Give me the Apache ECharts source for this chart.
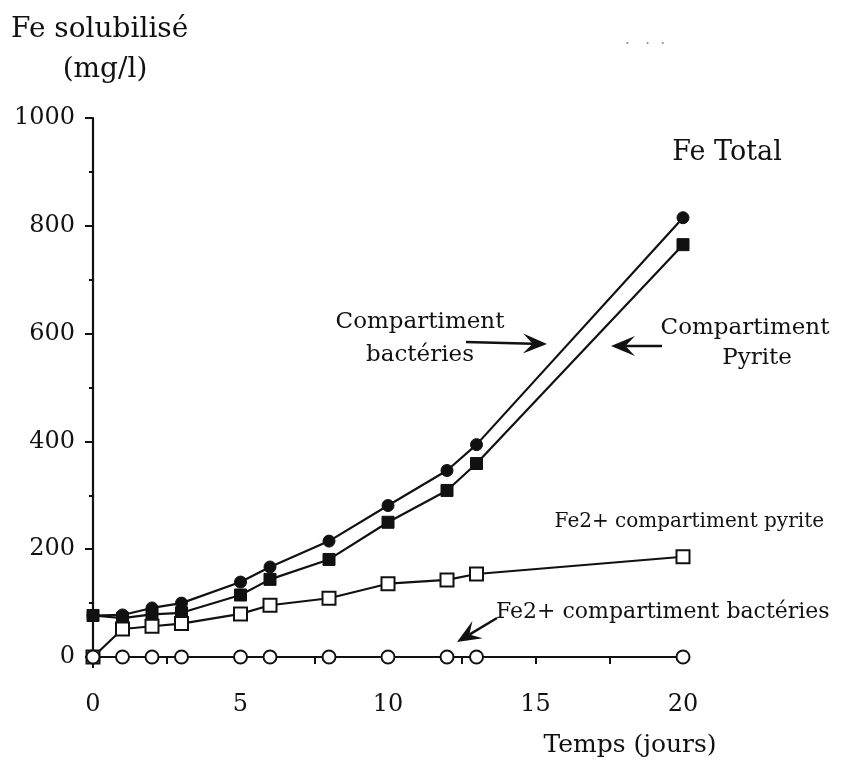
<!DOCTYPE html>
<html><head><meta charset="utf-8">
<script src="https://cdn.jsdelivr.net/npm/echarts@6/dist/echarts.min.js"></script>
<style>html,body{margin:0;padding:0;background:#fff}#c{width:843px;height:780px}</style>
</head><body><div id="c"></div>
<script>
var days = [0, 1, 2, 3, 5, 6, 8, 10, 12, 13, 20];
var feTotalBacteries = [77, 78, 91, 100, 139, 167, 215, 281, 346, 394, 815];
var feTotalPyrite = [77, 72, 79, 82, 115, 144, 181, 250, 309, 359, 765];
var fe2Pyrite = [0, 52, 57, 62, 80, 96, 109, 136, 143, 154, 186];
var fe2Bacteries = [0, 0, 0, 0, 0, 0, 0, 0, 0, 0, 0];
var xTicks = [0, 5, 10, 15, 20];
var yTicks = [0, 200, 400, 600, 800, 1000];

function pairs(v) { return days.map(function (d, i) { return [d, v[i]]; }); }
var F = 'DejaVu Serif';
var chart = echarts.init(document.getElementById('c'), null, {renderer: 'canvas'});
function mk(name, data, symbol, filled, z) {
  return {
    name: name, type: 'line', data: pairs(data), symbol: symbol, symbolSize: filled ? 12 : 13,
    lineStyle: {color: '#111', width: 2.2}, z: z,
    itemStyle: {color: filled ? '#111' : '#fff', borderColor: '#111', borderWidth: filled ? 1 : 2},
    emphasis: {disabled: true}, animation: false
  };
}
function arrow(x1, y1, x2, y2) {
  var ang = Math.atan2(y2 - y1, x2 - x1);
  var L = 24, W = 10;
  var bx = x2 - L * Math.cos(ang), by = y2 - L * Math.sin(ang);
  var nx = -Math.sin(ang), ny = Math.cos(ang);
  var mx = x2 - 0.6 * L * Math.cos(ang), my = y2 - 0.6 * L * Math.sin(ang);
  return [
    {type: 'line', shape: {x1: x1, y1: y1, x2: mx, y2: my}, style: {stroke: '#111', lineWidth: 2.5}},
    {type: 'polygon', shape: {points: [[x2, y2], [bx + nx * W, by + ny * W], [mx, my], [bx - nx * W, by - ny * W]]}, style: {fill: '#111'}}
  ];
}
function txt(t, x, y, size, align) {
  return {type: 'text', x: x, y: y, style: {text: t, font: size + 'px "' + F + '"', fill: '#111', textAlign: align || 'center', textVerticalAlign: 'middle'}};
}
var g = [
  txt('Fe solubilisé', 11, 30, 28, 'left'),
  txt('(mg/l)', 105, 70, 28),
  txt('Temps (jours)', 630, 745, 25),
  txt('Fe Total', 727, 153, 27),
  txt('Compartiment', 420, 322, 23),
  txt('bactéries', 420, 355, 23),
  txt('Compartiment', 745, 328, 23),
  txt('Pyrite', 757, 358, 23),
  txt('Fe2+ compartiment pyrite', 824, 522, 20, 'right'),
  txt('Fe2+ compartiment bactéries', 496, 612, 22, 'left'),
  {type: 'line', shape: {x1: 93, y1: 657, x2: 93, y2: 668}, style: {stroke: '#111', lineWidth: 2}},
  {type: 'text', x: 645, y: 45, style: {text: '·   ·  ·', font: '16px "' + F + '"', fill: '#999', textAlign: 'center', textVerticalAlign: 'middle'}}
].concat(arrow(466, 342, 547, 344), arrow(662, 346, 611, 346), arrow(497, 618, 457, 642));

chart.setOption({
  animation: false,
  backgroundColor: '#fff',
  grid: {left: 93, top: 118, width: 590, height: 539},
  xAxis: {
    type: 'value', min: 0, max: 20, interval: 5,
    axisLine: {show: true, lineStyle: {color: '#111', width: 2.2}},
    axisTick: {show: true, length: 7, lineStyle: {color: '#111', width: 2}},
    minorTick: {show: true, splitNumber: 2, length: 7, lineStyle: {color: '#111', width: 2}},
    splitLine: {show: false},
    axisLabel: {margin: 36, color: '#111', fontFamily: F, fontSize: 24,
      formatter: function (v) { return xTicks.indexOf(v) >= 0 ? String(v) : ''; }}
  },
  yAxis: {
    type: 'value', min: 0, max: 1000, interval: 200,
    axisLine: {show: true, lineStyle: {color: '#111', width: 2.2}},
    axisTick: {show: true, length: 8, lineStyle: {color: '#111', width: 2}},
    minorTick: {show: true, splitNumber: 2, length: 4, lineStyle: {color: '#111', width: 2}},
    splitLine: {show: false},
    axisLabel: {margin: 18, color: '#111', fontFamily: F, fontSize: 24,
      formatter: function (v) { return yTicks.indexOf(v) >= 0 ? String(v) : ''; }}
  },
  series: [
    mk('Fe total compartiment bactéries', feTotalBacteries, 'circle', true, 3),
    mk('Fe total compartiment pyrite', feTotalPyrite, 'rect', true, 4),
    mk('Fe2+ compartiment pyrite', fe2Pyrite, 'rect', false, 5),
    mk('Fe2+ compartiment bactéries', fe2Bacteries, 'circle', false, 6)
  ],
  graphic: g
});
</script></body></html>
